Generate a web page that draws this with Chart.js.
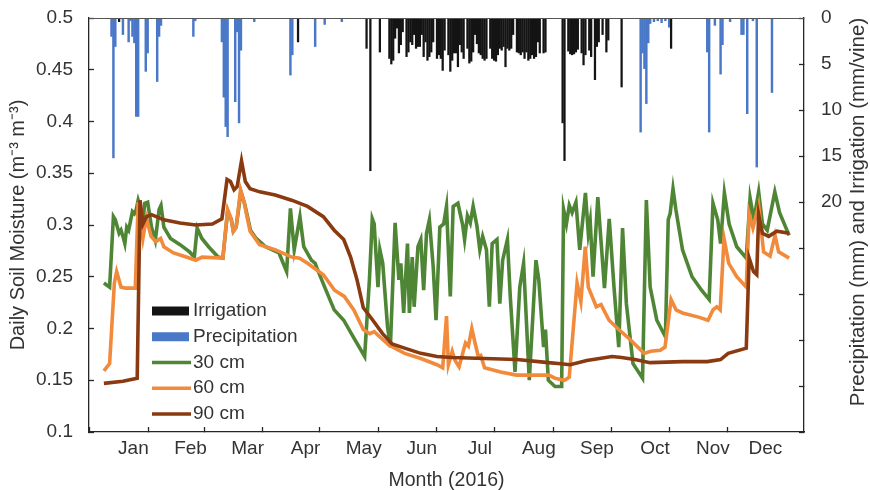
<!DOCTYPE html>
<html>
<head>
<meta charset="utf-8">
<script src="https://cdn.jsdelivr.net/npm/chart.js@4.4.0/dist/chart.umd.min.js"></script>
<style>
  body { margin: 0; background: #fff; }
  #wrap { width: 870px; height: 490px; }
</style>
</head>
<body>
<div id="wrap"><canvas id="moisture-chart" width="870" height="490"></canvas></div>
<script>
// x axis is day of year (Jan 1 = 0)
const monthNames = ['Jan', 'Feb', 'Mar', 'Apr', 'May', 'Jun', 'Jul', 'Aug', 'Sep', 'Oct', 'Nov', 'Dec'];
const monthStarts = [0, 31, 60, 91, 121, 152, 182, 213, 244, 274, 305, 335];
const lastDay = 360;

// [day, mm]
const irrigation = [
    [8, 0.4], [102, 2.6], [138, 3.3], [140, 16.6], [145, 3.7],
    [150, 4.4], [151, 5.0], [152, 4.6], [153, 2.2], [154, 1.1], [155, 3.8], [156, 2.9], [157, 1.5],
    [159, 4.2], [160, 3.7], [161, 2.6], [162, 2.9], [163, 1.8], [164, 3.3], [165, 3.1], [166, 3.1],
    [167, 1.8], [168, 4.2], [169, 2.6], [170, 4.6], [171, 4.2], [172, 3.7], [173, 2.6], [175, 4.4],
    [176, 4.0], [177, 4.4], [178, 5.7], [179, 3.5], [181, 4.0], [182, 5.8], [183, 4.6], [184, 3.8],
    [185, 3.8], [186, 5.3], [187, 2.9], [188, 3.7], [189, 4.4], [191, 3.3], [192, 4.9], [193, 4.7],
    [194, 3.7], [195, 1.8], [196, 2.8], [197, 3.8], [198, 4.0], [199, 4.4], [200, 4.6], [201, 4.4],
    [203, 3.3], [204, 4.4], [205, 4.6], [206, 4.7], [207, 4.0], [208, 3.3], [209, 3.5], [210, 3.1],
    [211, 5.3], [212, 3.3], [213, 3.5], [214, 3.3], [215, 1.8], [217, 3.7], [218, 3.8], [219, 4.0],
    [220, 3.7], [221, 4.4], [222, 3.7], [223, 4.6], [224, 4.4], [225, 4.0], [226, 4.4], [227, 4.2],
    [228, 2.6], [229, 3.8], [231, 3.8], [232, 3.7],
    [241, 11.4], [242, 15.5], [244, 3.6], [245, 3.9], [246, 4.0], [247, 3.9], [248, 3.7], [249, 3.4],
    [251, 3.8], [252, 5.1], [253, 4.0], [255, 3.5], [256, 4.2], [258, 6.7], [259, 3.1], [260, 2.6],
    [262, 1.8], [264, 3.7], [265, 2.4], [272, 7.5], [298, 3.3]
];

const precipitation = [
    [4, 2.0], [5, 15.2], [6, 3.1], [10, 1.8], [13, 2.6], [14, 0.3], [15, 2.0], [16, 2.7],
    [17, 10.7], [18, 10.7], [22, 5.8], [23, 3.8], [28, 6.9], [29, 2.0], [30, 0.8], [47, 2.0],
    [48, 0.3], [62, 2.6], [63, 8.6], [64, 11.8], [65, 12.9], [69, 9.1], [70, 1.5], [71, 11.4],
    [72, 3.5], [79, 0.4], [98, 6.2], [99, 4.0], [111, 3.1], [116, 0.7], [125, 0.4],
    [282, 12.4], [283, 3.8], [284, 5.5], [285, 9.3], [286, 2.7], [287, 0.6], [289, 0.4], [291, 0.3],
    [293, 0.5], [295, 0.3], [297, 1.0], [317, 3.7], [318, 12.4], [321, 0.8], [324, 6.1], [325, 2.9],
    [329, 0.4], [335, 1.8], [336, 1.8], [338, 10.4], [341, 0.3], [343, 16.2], [351, 8.1]
];

// [day, m3/m3]
const soil30cm = [
    [0, 0.244], [3, 0.240], [5, 0.308], [6, 0.305], [8, 0.292], [9, 0.295], [10, 0.289], [11, 0.282],
    [12, 0.298], [13, 0.295], [15, 0.313], [16, 0.311], [17, 0.315], [18, 0.324], [19, 0.318], [20, 0.295],
    [21.5, 0.321], [23, 0.322], [25, 0.298], [27, 0.285], [29, 0.315], [30, 0.319], [31.5, 0.298],
    [35, 0.287], [40, 0.281], [45, 0.274], [47.5, 0.269], [49, 0.297], [51.5, 0.287], [55, 0.279],
    [60, 0.269], [62.5, 0.268], [65, 0.313], [67, 0.305], [68, 0.294], [69.5, 0.298], [72, 0.332],
    [74, 0.320], [77, 0.295], [80, 0.287], [85, 0.279], [92, 0.273], [96, 0.255], [98, 0.316],
    [100, 0.276], [103, 0.308], [105, 0.279], [109, 0.266], [111, 0.263], [112, 0.258], [116, 0.240],
    [121, 0.218], [126, 0.208], [131, 0.192], [137, 0.173], [139.5, 0.247], [141, 0.306], [142, 0.301],
    [144, 0.240], [145, 0.276], [146.5, 0.263], [149, 0.202], [150.5, 0.182], [153, 0.302], [155, 0.247],
    [156, 0.263], [157.5, 0.215], [159.5, 0.282], [160.5, 0.215], [162, 0.269], [163, 0.221], [165, 0.279],
    [166.5, 0.286], [168, 0.237], [169.5, 0.292], [171, 0.305], [173, 0.260], [174.5, 0.208], [176.5, 0.298],
    [178.5, 0.301], [180, 0.318], [182, 0.231], [183.5, 0.318], [186, 0.321], [188.5, 0.300], [189.5, 0.286],
    [191, 0.309], [192.5, 0.302], [194, 0.318], [196, 0.299], [197.5, 0.276], [199, 0.289], [201, 0.276],
    [202.5, 0.221], [204, 0.282], [206.5, 0.286], [208, 0.224], [209.5, 0.266], [212, 0.286], [213.5, 0.231],
    [216, 0.158], [218.5, 0.240], [220.5, 0.263], [223.5, 0.150], [227, 0.266], [228.5, 0.247], [231, 0.182],
    [232, 0.199], [233.5, 0.150], [237, 0.144], [240.5, 0.144], [241.5, 0.315], [243, 0.301], [244.5, 0.319],
    [246, 0.312], [248, 0.322], [250, 0.276], [253, 0.331], [254.5, 0.292], [255.5, 0.304], [257, 0.250],
    [259.5, 0.327], [261, 0.289], [263, 0.239], [265.5, 0.306], [268, 0.240], [270.5, 0.182], [272.5, 0.297],
    [274.5, 0.224], [278, 0.166], [283, 0.152], [285, 0.324], [287, 0.240], [290.5, 0.208], [295, 0.192],
    [296.5, 0.305], [297.5, 0.311], [299, 0.335], [300.5, 0.315], [304, 0.276], [309, 0.250], [314, 0.237],
    [318, 0.228], [320, 0.321], [322.5, 0.305], [324, 0.282], [326, 0.331], [328.5, 0.301], [332.5, 0.279],
    [337.5, 0.268], [339.5, 0.326], [341.5, 0.305], [344, 0.332], [346, 0.301], [348.5, 0.295], [352.5, 0.332],
    [355, 0.312], [360, 0.290]
];

const soil60cm = [
    [0, 0.159], [3, 0.166], [5.5, 0.244], [6.7, 0.255], [9, 0.240], [11.5, 0.239], [16.5, 0.239], [18, 0.322],
    [20.5, 0.287], [22.3, 0.307], [24.8, 0.289], [27.3, 0.284], [29.8, 0.287], [31.5, 0.279], [36.6, 0.273],
    [43.3, 0.269], [48.3, 0.266], [51.6, 0.269], [62.5, 0.268], [65, 0.315], [66.5, 0.308], [68, 0.294],
    [69.5, 0.298], [71.8, 0.334], [73.4, 0.324], [76.8, 0.294], [81.8, 0.281], [90.2, 0.276], [98.6, 0.269],
    [102.8, 0.268], [107, 0.263], [115.3, 0.252], [121.2, 0.237], [126.3, 0.231], [131.3, 0.218],
    [136.3, 0.199], [139.7, 0.195], [142, 0.197], [149.7, 0.184], [158, 0.176], [166.5, 0.171], [175, 0.165],
    [178, 0.162], [180, 0.212], [181, 0.165], [183, 0.178], [184.5, 0.169], [186.6, 0.163], [190, 0.186],
    [191.5, 0.183], [193.3, 0.200], [195, 0.186], [196.7, 0.173], [198, 0.174], [200, 0.162], [208.4, 0.158],
    [216.8, 0.155], [225, 0.155], [233.6, 0.155], [237, 0.152], [242, 0.150], [244.5, 0.153], [248.6, 0.244],
    [250.6, 0.226], [252.9, 0.279], [254.5, 0.240], [258.7, 0.221], [261.2, 0.223], [265.4, 0.208],
    [270.5, 0.199], [275.5, 0.191], [280.5, 0.182], [283.9, 0.176], [287.2, 0.178], [292.3, 0.179],
    [294.8, 0.182], [298, 0.228], [300.6, 0.218], [304, 0.215], [312.4, 0.211], [317.4, 0.208], [320, 0.218],
    [322, 0.221], [323.8, 0.218], [325.8, 0.287], [328.3, 0.263], [332.5, 0.250], [337.5, 0.240], [339, 0.311],
    [341, 0.297], [344, 0.319], [346.6, 0.274], [350, 0.270], [352.6, 0.290], [354.5, 0.274], [360, 0.268]
];

const soil90cm = [
    [0, 0.147], [10, 0.149], [17.5, 0.152], [19, 0.324], [20.5, 0.301], [22.3, 0.308], [25, 0.310],
    [31.5, 0.305], [40, 0.302], [48.3, 0.300], [57, 0.301], [62, 0.306], [64.7, 0.344], [66.5, 0.342],
    [68.4, 0.334], [70, 0.337], [72.3, 0.362], [74.3, 0.342], [76.8, 0.335], [81.8, 0.332], [90, 0.329],
    [98.6, 0.324], [107, 0.318], [115.3, 0.308], [121, 0.295], [126, 0.286], [129.6, 0.269], [133, 0.247],
    [136.3, 0.220], [141.3, 0.208], [146.4, 0.195], [151.4, 0.185], [158, 0.181], [166.5, 0.176], [175, 0.173],
    [183, 0.172], [200, 0.171], [217, 0.170], [233.6, 0.167], [240, 0.166], [245, 0.165], [253.7, 0.169],
    [267, 0.173], [272, 0.172], [279, 0.170], [287, 0.167], [304, 0.168], [317, 0.168], [324, 0.170],
    [328, 0.176], [337.5, 0.181], [339, 0.268], [341.3, 0.255], [343, 0.252], [344, 0.310], [346, 0.292],
    [349.3, 0.289], [353.5, 0.294], [360, 0.292]
];

const moistureTicks = [0.1, 0.15, 0.2, 0.25, 0.3, 0.35, 0.4, 0.45, 0.5];
const rainTickMax = 20;

const FONT = '"Liberation Sans", Arial, sans-serif';
const TEXT = '#333333';
const AXIS = '#262626';

const toXY = (pairs) => pairs.map(p => ({x: p[0], y: p[1]}));
const monthMids = monthStarts.map((d, i) => (d + (i < monthStarts.length - 1 ? monthStarts[i + 1] : lastDay)) / 2);

// fixed axis box sizes so the plot area sits where the original's does
function fixBox(size) {
    return (scale) => {
        if (scale.isHorizontal()) scale.height = size; else scale.width = size;
        scale.paddingTop = 0;
        scale.paddingBottom = 0;
        scale.paddingLeft = 0;
        scale.paddingRight = 0;
    };
}

const legendAndFrame = {
    id: 'legendAndFrame',
    afterDraw(chart) {
        const {ctx, chartArea} = chart;
        ctx.save();
        // top frame line
        ctx.strokeStyle = '#555';
        ctx.lineWidth = 1;
        ctx.beginPath();
        ctx.moveTo(chartArea.left, chartArea.top + 0.5);
        ctx.lineTo(chartArea.right, chartArea.top + 0.5);
        ctx.stroke();

        // legend inside plot, lower left
        ctx.font = '19px ' + FONT;
        ctx.textBaseline = 'middle';
        ctx.textAlign = 'left';
        const x0 = chartArea.left + 63;
        let y = chartArea.top + 293;
        chart.data.datasets.forEach((ds) => {
            if (ds.type === 'bar') {
                ctx.fillStyle = ds.backgroundColor;
                ctx.fillRect(x0, y - 4.5, 37, 9);
            } else {
                ctx.strokeStyle = ds.borderColor;
                ctx.lineWidth = ds.borderWidth;
                ctx.beginPath();
                ctx.moveTo(x0, y);
                ctx.lineTo(x0 + 39, y);
                ctx.stroke();
            }
            ctx.fillStyle = TEXT;
            ctx.fillText(ds.label, x0 + 41, y);
            y += 25.75;
        });

        // right axis title, reading bottom to top
        ctx.font = '20.5px ' + FONT;
        ctx.translate(858, 212);
        ctx.rotate(-Math.PI / 2);
        ctx.textAlign = 'center';
        ctx.fillStyle = TEXT;
        ctx.fillText('Precipitation (mm) and Irrigation (mm/vine)', 0, 0);
        ctx.restore();
    }
};

const config = {
    type: 'bar',
    data: {
        datasets: [
            {
                type: 'bar', label: 'Irrigation', data: toXY(irrigation),
                backgroundColor: '#141414', yAxisID: 'y2', barThickness: 1.6, grouped: false, order: 0
            },
            {
                type: 'bar', label: 'Precipitation', data: toXY(precipitation),
                backgroundColor: '#4a78c8', yAxisID: 'y2', barThickness: 1.8, grouped: false, order: 0
            },
            {
                type: 'line', label: '30 cm', data: toXY(soil30cm), yAxisID: 'y',
                borderColor: '#4f8636', borderWidth: 3.6, pointRadius: 0, tension: 0, order: 3
            },
            {
                type: 'line', label: '60 cm', data: toXY(soil60cm), yAxisID: 'y',
                borderColor: '#f28a3c', borderWidth: 3.6, pointRadius: 0, tension: 0, order: 2
            },
            {
                type: 'line', label: '90 cm', data: toXY(soil90cm), yAxisID: 'y',
                borderColor: '#8a3a10', borderWidth: 3.6, pointRadius: 0, tension: 0, order: 1
            }
        ]
    },
    options: {
        responsive: false,
        animation: false,
        events: [],
        layout: {padding: {top: 18, left: 0, right: 0, bottom: 0}},
        plugins: {legend: {display: false}, tooltip: {enabled: false}},
        scales: {
            x: {
                type: 'linear', position: 'bottom', min: 0, max: lastDay,
                afterBuildTicks: (scale) => {
                    const vals = monthStarts.concat(monthMids).sort((a, b) => a - b);
                    scale.ticks = vals.map(v => ({value: v}));
                },
                afterFit: fixBox(58),
                ticks: {
                    autoSkip: false, maxRotation: 0, padding: 10.5,
                    color: TEXT, font: {family: FONT, size: 19},
                    callback: (v) => {
                        const i = monthMids.indexOf(v);
                        return i >= 0 ? monthNames[i] : '';
                    }
                },
                grid: {
                    drawOnChartArea: false, drawTicks: true, tickLength: -5, tickWidth: 1.3,
                    tickColor: (c) => (c.tick && monthStarts.includes(c.tick.value)) ? AXIS : 'rgba(0,0,0,0)'
                },
                border: {color: AXIS, width: 1.3},
                title: {display: true, text: 'Month (2016)', color: TEXT, font: {family: FONT, size: 19.5}, padding: {top: 0, bottom: -2}}
            },
            y: {
                type: 'linear', position: 'left', min: 0.1, max: 0.5,
                afterBuildTicks: (scale) => { scale.ticks = moistureTicks.map(v => ({value: v})); },
                afterFit: fixBox(89),
                ticks: {
                    padding: 21, color: TEXT, font: {family: FONT, size: 19},
                    callback: (v) => String(+v.toFixed(2))
                },
                grid: {drawOnChartArea: false, tickLength: -5, tickWidth: 1.3, tickColor: AXIS},
                border: {color: AXIS, width: 1.3},
                title: {display: true, text: 'Daily Soil Moisture (m\u207B\u00B3 m\u207B\u00B3)', color: TEXT, font: {family: FONT, size: 20}, padding: {top: 6, bottom: 0}}
            },
            y2: {
                type: 'linear', position: 'right', reverse: true, min: 0, max: 45,
                afterFit: fixBox(66),
                ticks: {
                    stepSize: 5, padding: 22, color: TEXT, font: {family: FONT, size: 19},
                    callback: (v) => v <= rainTickMax ? String(v) : ''
                },
                grid: {drawOnChartArea: false, tickLength: -5, tickWidth: 1.3, tickColor: AXIS},
                border: {color: AXIS, width: 1.3}
            }
        }
    },
    plugins: [legendAndFrame]
};

const chart_canvas = document.getElementById('moisture-chart');
const moisture_chart = new Chart(chart_canvas, config);
</script>
</body>
</html>
